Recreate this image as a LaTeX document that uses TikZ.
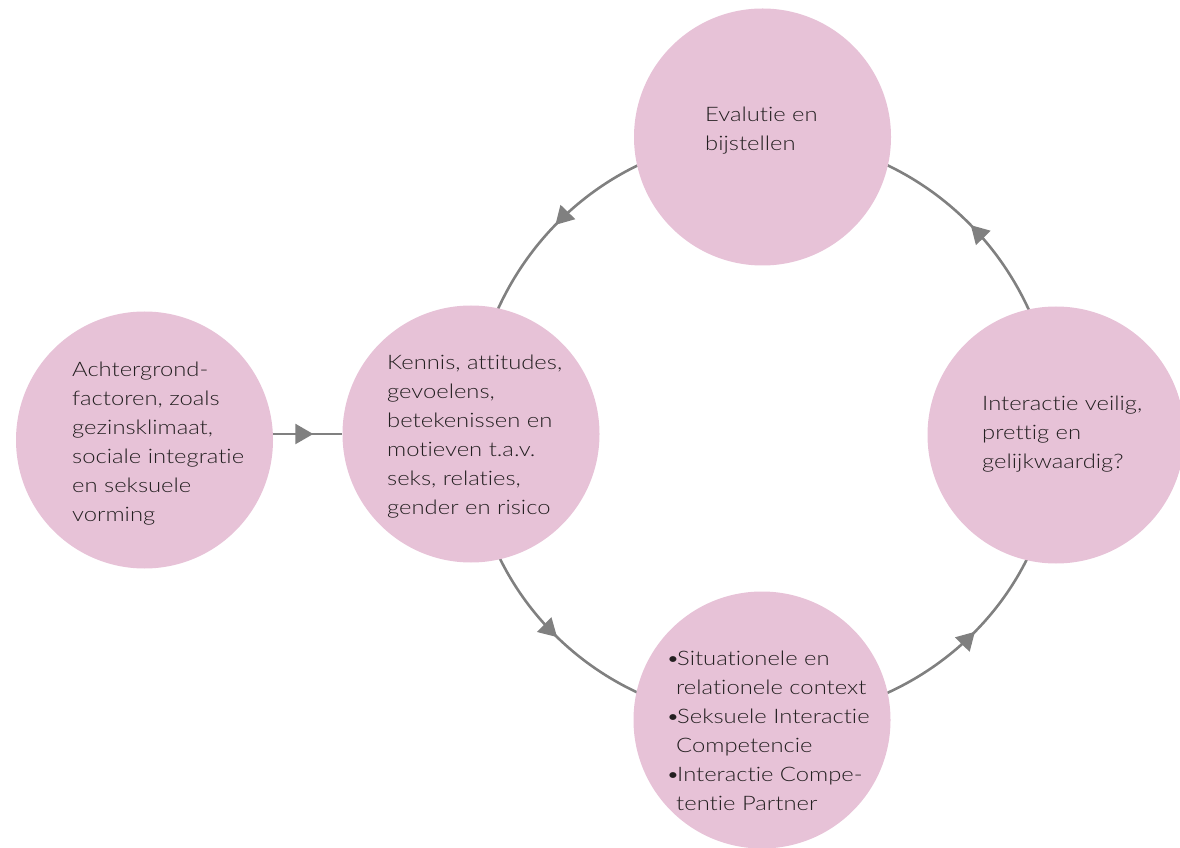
\documentclass[tikz,border=0pt]{standalone}
\usepackage{fontspec}
\setmainfont{Lato}[UprightFont=* Light, FakeStretch=1.19, Ligatures={NoCommon}]
\usetikzlibrary{arrows.meta,decorations.markings,backgrounds}

\definecolor{bubble}{HTML}{E7C2D7}
\definecolor{linkgray}{HTML}{808080}
\definecolor{ink}{HTML}{231F20}

\tikzset{
  bubble/.style={circle, fill=bubble, draw=none, minimum size=257pt, inner sep=0pt},
  txt/.style={anchor=west, align=left, inner sep=0pt, text=ink,
    font=\fontsize{20}{29}\selectfont},
  link/.style={draw=linkgray, line width=2.6pt},
  midarrow/.style={postaction={decorate},
    decoration={markings, mark=at position #1 with
      {\arrow{Triangle[length=18pt,width=20pt]}}}},
}
\newcommand{\bul}{\makebox[11pt][l]{•}}
\newcommand{\hang}{\hspace*{10pt}}

\begin{document}
\begin{tikzpicture}[x=1pt,y=1pt, arrows={[linkgray]}]
  \useasboundingbox (0,0) rectangle (1180,847);

  % the five circles
  \node[bubble] (left)  at (144.5,407) {};
  \node[bubble] (mid)   at (471,413)   {};
  \node[bubble] (top)   at (762.5,710) {};
  \node[bubble] (right) at (1056,412)  {};
  \node[bubble] (bot)   at (762,127)   {};

  % texts
  \node[txt] (lefttxt) at (72,403) {Achtergrond-\\factoren, zoals\\gezinsklimaat,\\sociale integratie\\en seksuele\\vorming};
  \node[txt] (midtxt) at (387,410) {Kennis, attitudes,\\gevoelens,\\betekenissen en\\motieven t.a.v.\\seks, relaties,\\gender en risico};
  \node[txt] (toptxt) at (705,716) {Evalutie en\\bijstellen};
  \node[txt] (righttxt) at (982,413) {Interactie veilig,\\prettig en\\gelijkwaardig?};
  \node[txt] (bottxt) at (666,116) {\bul Situationele en\\\hang relationele context\\\bul Seksuele Interactie\\\hang Competencie\\\bul Interactie Compe-\\\hang tentie Partner};

  % cycle connectors behind the circles
  \begin{scope}[on background layer]
    \draw[link, midarrow=0.5] (top.center)   to[out=180,in=90]  (mid.center);
    \draw[link, midarrow=0.5] (mid.center)   to[out=270,in=180] (bot.center);
    \draw[link, midarrow=0.52] (bot.center)   to[out=0,in=270]   (right.center);
    \draw[link, midarrow=0.5] (right.center) to[out=90,in=0]    (top.center);
  \end{scope}

  % input connector
  \draw[link, midarrow=0.58] (left.east |- mid.west) -- (mid.west);
\end{tikzpicture}
\end{document}
